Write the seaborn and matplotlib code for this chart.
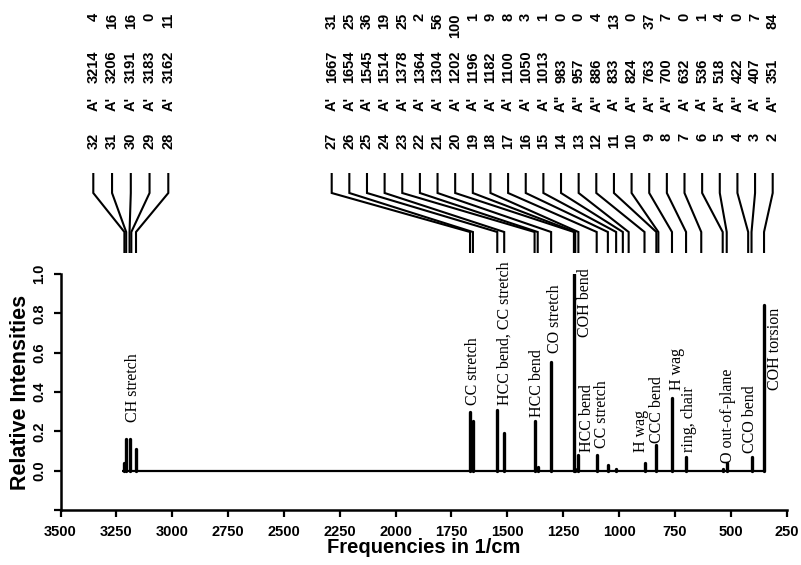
import numpy as np
import pandas as pd
import matplotlib
matplotlib.use("Agg")
import matplotlib.pyplot as plt
import seaborn as sns

# ---------------- data ----------------
mode_number = [32, 31, 30, 29, 28, 27, 26, 25, 24, 23, 22, 21, 20, 19, 18, 17,
               16, 15, 14, 13, 12, 11, 10, 9, 8, 7, 6, 5, 4, 3, 2]
symmetry = ["A'", "A'", "A'", "A'", "A'", "A'", "A'", "A'", "A'", "A'", "A'",
            "A'", "A'", "A'", "A'", "A'", "A'", "A'", 'A"', 'A"', 'A"', "A'",
            'A"', 'A"', 'A"', "A'", "A'", 'A"', 'A"', "A'", 'A"']
frequency = [3214, 3206, 3191, 3183, 3162, 1667, 1654, 1545, 1514, 1378, 1364,
             1304, 1202, 1196, 1182, 1100, 1050, 1013, 983, 957, 886, 833, 824,
             763, 700, 632, 536, 518, 422, 407, 351]
intensity_label = [4, 16, 16, 0, 11, 31, 25, 36, 19, 25, 2, 56, 100, 1, 9, 8,
                   3, 1, 0, 0, 4, 13, 0, 37, 7, 0, 1, 4, 0, 7, 84]
# peak heights
peak_height = [0.04, 0.16, 0.16, 0.0, 0.11, 0.30, 0.25, 0.31, 0.19, 0.25, 0.02,
               0.55, 1.00, 0.01, 0.08, 0.08, 0.03, 0.01, 0.0, 0.0, 0.04, 0.13,
               0.0, 0.37, 0.07, 0.0, 0.01, 0.04, 0.0, 0.07, 0.84]

annot_text = ["CH stretch", "CC stretch", "HCC bend, CC stretch", "HCC bend",
              "CO stretch", "COH bend", "HCC bend", "CC stretch", "H wag",
              "CCC bend", "H wag", "ring, chair", "O out-of-plane", "CCO bend",
              "COH torsion"]
annot_x = [3175, 1655, 1510, 1366, 1286, 1152, 1142, 1077, 903, 828, 742, 685,
           511, 413, 301]
annot_y = [0.248, 0.334, 0.334, 0.275, 0.598, 0.681, 0.097, 0.115, 0.097,
           0.141, 0.41, 0.097, 0.038, 0.088, 0.41]

x_ticks = [3500, 3250, 3000, 2750, 2500, 2250, 2000, 1750, 1500, 1250, 1000,
           750, 500, 250]
y_ticks = [-0.2, 0.0, 0.2, 0.4, 0.6, 0.8, 1.0]
y_tick_labels = ["", "0.0", "0.2", "0.4", "0.6", "0.8", "1.0"]

# ---------------- style ----------------
sns.set_theme(style="ticks")
plt.rcParams['font.family'] = ['Liberation Sans', 'DejaVu Sans']
plt.rcParams['text.color'] = 'black'
plt.rcParams['axes.labelcolor'] = 'black'
plt.rcParams['xtick.color'] = 'black'
plt.rcParams['ytick.color'] = 'black'

W, H = 801, 565
fig = plt.figure(figsize=(W / 100, H / 100), dpi=100)
fig.patch.set_facecolor("white")

ax_left_px, ax_right_px = 60.5, 786.6
ax_top_px, ax_bot_px = 274.0, 510.0
ax = fig.add_axes([ax_left_px / W, 1 - ax_bot_px / H,
                   (ax_right_px - ax_left_px) / W,
                   (ax_bot_px - ax_top_px) / H])

# spectrum: sticks from each mode, plus baseline
rows = []
for m, f, h in zip(mode_number, frequency, peak_height):
    rows.append({"mode": m, "freq": f, "rel": 0.0})
    rows.append({"mode": m, "freq": f, "rel": h})
df = pd.DataFrame(rows)
ax.hlines(0, max(frequency) + 10, min(frequency) - 4, color="black", lw=1.6)
sns.lineplot(data=df, x="freq", y="rel", units="mode", estimator=None,
             sort=False, color="black", lw=2.4, ax=ax, legend=False)

ax.set_xlim(3500, 250)
ax.set_ylim(-0.2, 1.0)
ax.set_xticks(x_ticks)
ax.set_xticklabels([str(t) for t in x_ticks], fontweight="bold", fontsize=10.5)
ax.set_yticks(y_ticks)
ax.set_yticklabels(y_tick_labels, fontweight="bold", fontsize=10.5,
                   rotation=90, va="center")
ax.tick_params(axis="both", direction="out", length=5, width=1.6,
               color="black", labelcolor="black")
ax.tick_params(axis="x", pad=6)
ax.tick_params(axis="y", pad=5)
sns.despine(ax=ax)
for s in ["left", "bottom"]:
    ax.spines[s].set_linewidth(1.8)
    ax.spines[s].set_color("black")
ax.grid(False)
ax.set_xlabel("Frequencies in 1/cm", fontsize=14.5, fontweight="bold",
              labelpad=-1, color="black")
ax.set_ylabel("Relative Intensities", fontsize=15.5, fontweight="bold",
              labelpad=1, color="black")

# peak annotations
for t, x, y in zip(annot_text, annot_x, annot_y):
    ax.text(x, y, t, rotation=90, ha="center", va="bottom", fontsize=11.5,
            family=["Liberation Serif", "DejaVu Serif"], color="black")

# ---------------- correlation diagram above ----------------
top_h = 262
ax_top = fig.add_axes([ax_left_px / W, 1 - top_h / H,
                       (ax_right_px - ax_left_px) / W, top_h / H], sharex=ax)
ax_top.set_ylim(top_h, 0)
ax_top.axis("off")


def px_to_freq(px):
    return 3500 - (px - ax_left_px) / (ax_right_px - ax_left_px) * 3250


col_px = [93.3 + 18.75 * k for k in range(5)] + \
         [331.7 + 17.64 * k for k in range(26)]
col_x = [px_to_freq(p) for p in col_px]

fs_top = 10.5
for cx, m, s, f, it in zip(col_x, mode_number, symmetry, frequency,
                           intensity_label):
    ax_top.plot([cx, cx, f, f], [173, 193, 232, 253], color="black", lw=1.5,
                solid_joinstyle="miter", solid_capstyle="butt")
    ax_top.text(cx, 133, str(m), rotation=90, ha="center", va="top",
                fontsize=fs_top, fontweight="bold", color="black")
    ax_top.text(cx, 103.5, s, rotation=90, ha="center", va="center",
                fontsize=fs_top, fontweight="bold", color="black")
    ax_top.text(cx, 83, str(f), rotation=90, ha="center", va="bottom",
                fontsize=fs_top, fontweight="bold", color="black")
    ax_top.text(cx, 13, str(it), rotation=90, ha="center", va="top",
                fontsize=fs_top, fontweight="bold", color="black")

fig.savefig("out.png", dpi=100, facecolor="white")
